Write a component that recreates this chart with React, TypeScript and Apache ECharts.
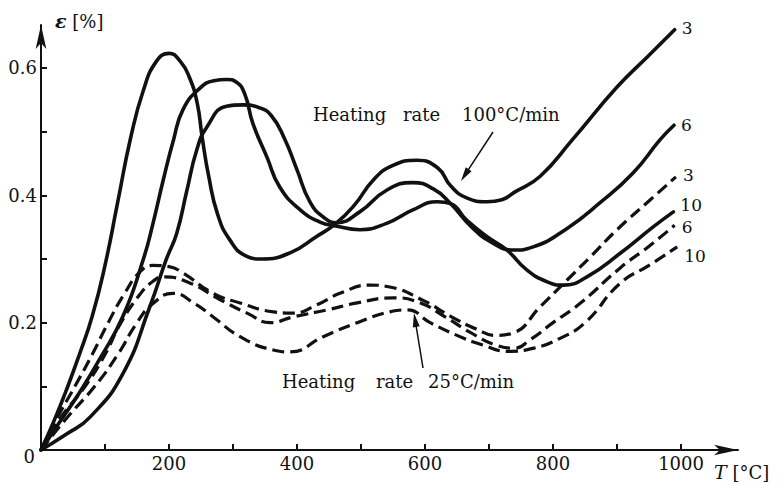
import React, { useEffect, useRef } from "react";
import * as echarts from "echarts";

// ---- data (T in °C, strain ε in %) ----
const solid3T = [0, 20, 40, 60, 80, 100, 120, 140, 160, 180, 200, 218, 232, 244, 252, 262, 276, 295, 320, 345, 390, 430, 460, 490, 520, 550, 587, 620, 640, 665, 697, 720, 740, 780, 830, 900, 950, 990];
const solid3E = [0, 0.045, 0.095, 0.15, 0.21, 0.29, 0.39, 0.49, 0.565, 0.61, 0.623, 0.61, 0.585, 0.545, 0.49, 0.43, 0.37, 0.33, 0.305, 0.3, 0.31, 0.335, 0.355, 0.385, 0.425, 0.447, 0.455, 0.443, 0.415, 0.396, 0.39, 0.393, 0.405, 0.43, 0.487, 0.57, 0.62, 0.66];

const solid6T = [0, 40, 77, 128, 170, 196, 212, 228, 243, 259, 290, 316, 340, 360, 380, 400, 420, 441, 462, 498, 540, 581, 613, 639, 675, 706, 738, 769, 822, 873, 925, 967, 989];
const solid6E = [0, 0.025, 0.052, 0.12, 0.225, 0.3, 0.34, 0.408, 0.47, 0.507, 0.54, 0.542, 0.538, 0.525, 0.49, 0.44, 0.39, 0.366, 0.357, 0.374, 0.408, 0.42, 0.41, 0.388, 0.348, 0.325, 0.314, 0.319, 0.348, 0.388, 0.435, 0.487, 0.51];

const solid10T = [0, 30, 60, 90, 128, 160, 175, 191, 207, 222, 248, 270, 290, 305, 318, 331, 353, 373, 405, 436, 460, 498, 540, 581, 619, 640, 665, 697, 728, 759, 791, 816, 853, 905, 956, 988];
const solid10E = [0, 0.045, 0.09, 0.14, 0.21, 0.3, 0.356, 0.424, 0.487, 0.535, 0.568, 0.58, 0.582, 0.578, 0.56, 0.513, 0.46, 0.413, 0.377, 0.358, 0.352, 0.346, 0.356, 0.377, 0.39, 0.387, 0.361, 0.335, 0.314, 0.283, 0.264, 0.259, 0.272, 0.309, 0.35, 0.374];

const dashed3T = [0, 25, 53, 80, 105, 130, 155, 175, 200, 222, 269, 311, 363, 394, 431, 467, 514, 545, 597, 640, 680, 710, 738, 780, 822, 860, 900, 952, 992];
const dashed3E = [0, 0.05, 0.1, 0.15, 0.2, 0.245, 0.28, 0.29, 0.288, 0.278, 0.246, 0.231, 0.217, 0.215, 0.228, 0.246, 0.259, 0.256, 0.235, 0.21, 0.19, 0.18, 0.184, 0.225, 0.267, 0.305, 0.346, 0.393, 0.429];

const dashed6T = [0, 30, 69, 100, 125, 155, 175, 191, 233, 280, 322, 358, 394, 447, 494, 550, 590, 630, 670, 710, 740, 764, 800, 842, 905, 950, 990];
const dashed6E = [0, 0.05, 0.1, 0.15, 0.2, 0.245, 0.265, 0.272, 0.262, 0.236, 0.215, 0.2, 0.209, 0.22, 0.231, 0.239, 0.232, 0.21, 0.185, 0.165, 0.16, 0.173, 0.2, 0.23, 0.286, 0.32, 0.353];

const dashed10T = [0, 40, 84, 120, 150, 175, 206, 240, 269, 311, 363, 389, 441, 494, 545, 572, 608, 650, 690, 730, 770, 810, 850, 905, 950, 994];
const dashed10E = [0, 0.05, 0.1, 0.15, 0.2, 0.23, 0.246, 0.23, 0.209, 0.178, 0.157, 0.154, 0.178, 0.2, 0.217, 0.22, 0.2, 0.18, 0.165, 0.155, 0.16, 0.175, 0.2, 0.262, 0.29, 0.319];

const xTickValues = [100, 200, 300, 400, 500, 600, 700, 800, 900, 1000];
const xLabelValues = [200, 400, 600, 800, 1000];
const yTickValues = [0.1, 0.2, 0.3, 0.4, 0.5, 0.6];
const yLabelValues = [0, 0.2, 0.4, 0.6];

const FONT = "DejaVu Serif";
const INK = "#111";

function makeSeries(T: number[], E: number[], dashed: boolean, label: string, offset: number[]) {
  return {
    type: "line",
    data: T.map((t, i) => [t, E[i]]),
    smooth: 0.5,
    showSymbol: false,
    symbol: "none",
    silent: true,
    lineStyle: {
      color: INK,
      width: dashed ? 3.2 : 3.6,
      type: dashed ? [12, 6] : "solid",
      cap: dashed ? "butt" : "round",
      join: "round",
    },
    endLabel: {
      show: true,
      formatter: label,
      distance: 7,
      offset,
      color: INK,
      fontFamily: FONT,
      fontSize: 17,
    },
  };
}

function arrowGraphics(x1: number, y1: number, x2: number, y2: number) {
  const dx = x2 - x1;
  const dy = y2 - y1;
  const len = Math.sqrt(dx * dx + dy * dy);
  const ux = dx / len;
  const uy = dy / len;
  const hl = 14;
  const hw = 3.5;
  const bx = x2 - ux * hl;
  const by = y2 - uy * hl;
  return [
    {
      type: "line",
      shape: { x1, y1, x2: bx + ux * 2, y2: by + uy * 2 },
      style: { stroke: INK, lineWidth: 1.5 },
      silent: true,
    },
    {
      type: "polygon",
      shape: {
        points: [
          [x2, y2],
          [bx - uy * hw, by + ux * hw],
          [bx + uy * hw, by - ux * hw],
        ],
      },
      style: { fill: INK },
      silent: true,
    },
  ];
}

function text(x: number, y: number, t: string, size = 18, rich?: any) {
  return {
    type: "text",
    x,
    y,
    silent: true,
    style: {
      text: t,
      fill: INK,
      fontFamily: FONT,
      fontSize: size,
      verticalAlign: "middle",
      align: "left",
      rich,
    },
  };
}

export default function App() {
  const ref = useRef<HTMLDivElement>(null);
  useEffect(() => {
    if (!ref.current) return;
    const chart = echarts.init(ref.current, null, { renderer: "svg" });
    const option: any = {
      animation: false,
      backgroundColor: "#fff",
      grid: { left: 41, top: 25, right: 46, bottom: 35, containLabel: false },
      xAxis: {
        type: "value",
        min: 0,
        max: 1089,
        splitLine: { show: false },
        axisLine: {
          show: true,
          onZero: false,
          symbol: ["none", "arrow"],
          symbolSize: [8, 24],
          lineStyle: { color: INK, width: 2 },
        },
        axisTick: {
          show: true,
          inside: true,
          length: 6,
          customValues: xTickValues,
          lineStyle: { color: INK, width: 2 },
        },
        axisLabel: {
          customValues: xLabelValues,
          color: INK,
          fontFamily: FONT,
          fontSize: 18,
          margin: 4,
          formatter: (v: number) => String(v),
        },
      },
      yAxis: {
        type: "value",
        min: 0,
        max: 0.6675,
        splitLine: { show: false },
        axisLine: {
          show: true,
          onZero: false,
          symbol: ["none", "arrow"],
          symbolSize: [8, 24],
          lineStyle: { color: INK, width: 2 },
        },
        axisTick: {
          show: true,
          inside: true,
          length: 6,
          customValues: yTickValues,
          lineStyle: { color: INK, width: 2 },
        },
        axisLabel: {
          customValues: yLabelValues,
          color: INK,
          fontFamily: FONT,
          fontSize: 18,
          margin: 4,
          formatter: (v: number) => (v === 0 ? "{z|0}" : v.toFixed(1)),
          rich: { z: { fontFamily: FONT, fontSize: 18, color: INK, padding: [12, 2, 0, 0] } },
        },
      },
      series: [
        makeSeries(solid3T, solid3E, false, "3", [0, -2]),
        makeSeries(solid6T, solid6E, false, "6", [0, 0]),
        makeSeries(solid10T, solid10E, false, "10", [0, -7]),
        makeSeries(dashed3T, dashed3E, true, "3", [0, -2]),
        makeSeries(dashed6T, dashed6E, true, "6", [0, 2]),
        makeSeries(dashed10T, dashed10E, true, "10", [0, 9]),
      ],
      graphic: [
        text(55, 21, "{e|ε} [%]", 18, {
          e: { fontFamily: FONT, fontSize: 19, fontStyle: "italic", fontWeight: "bold", fill: INK, color: INK },
        }),
        text(714, 472, "{t|T} [°C]", 18, {
          t: { fontFamily: FONT, fontSize: 19, fontStyle: "italic", fill: INK, color: INK },
        }),
        text(313, 114, "Heating", 18),
        text(403, 114, "rate", 18),
        text(462, 114, "100°C/min", 18),
        text(282, 381, "Heating", 18),
        text(376, 381, "rate", 18),
        text(428, 381, "25°C/min", 18),
        ...arrowGraphics(493, 132, 461, 181),
        ...arrowGraphics(423, 368, 414, 313),
      ],
    };
    chart.setOption(option);
    return () => chart.dispose();
  }, []);
  return (
    <div
      ref={ref}
      style={{ position: "fixed", left: 0, top: 0, width: 784, height: 485, background: "#fff" }}
    />
  );
}
